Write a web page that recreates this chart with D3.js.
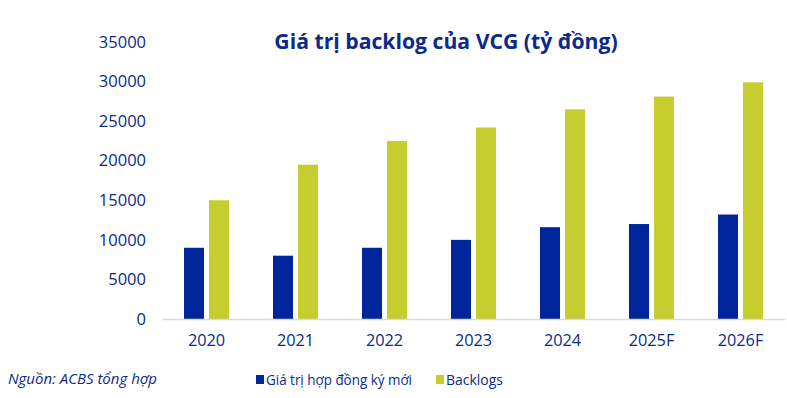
<!DOCTYPE html>
<html>
<head>
<meta charset="utf-8">
<script src="https://cdn.jsdelivr.net/npm/d3@7"></script>
<style>
  body { margin: 0; background: #fff; }
  text { font-family: "Open Sans", "Noto Sans", sans-serif; }
</style>
</head>
<body>
<div id="chart"></div>
<script>
// data
var years = ["2020", "2021", "2022", "2023", "2024", "2025F", "2026F"];
var newContracts = [9000, 8000, 9000, 10000, 11600, 12000, 13200];
var backlogs = [15000, 19500, 22500, 24200, 26500, 28100, 29900];
var yTicks = [0, 5000, 10000, 15000, 20000, 25000, 30000, 35000];
var seriesNames = ["Giá trị hợp đồng ký mới", "Backlogs"];

var navy = "#00259a", lime = "#c6cd2e", textCol = "#0c2a8c";
var W = 787, H = 398;
var margin = { top: 42, right: 2, bottom: 79, left: 162 };

var svg = d3.select("#chart").append("svg")
    .attr("width", W).attr("height", H);

var x = d3.scaleBand()
    .domain(years)
    .range([margin.left, W - margin.right]);

var y = d3.scaleLinear()
    .domain([0, 35000])
    .range([H - margin.bottom, margin.top]);

// y labels (no axis line)
svg.append("g")
    .selectAll("text")
    .data(yTicks)
    .join("text")
    .attr("x", 146)
    .attr("y", d => y(d))
    .attr("dy", "0.35em")
    .attr("text-anchor", "end")
    .attr("font-size", 16.5)
    .attr("fill", textCol)
    .text(d => d);

var barW = 20, gap = 5;

svg.append("g").selectAll("rect")
    .data(years)
    .join("rect")
    .attr("x", (d) => x(d) + x.bandwidth() / 2 - gap / 2 - barW)
    .attr("y", (d, i) => y(newContracts[i]))
    .attr("width", barW)
    .attr("height", (d, i) => y(0) - y(newContracts[i]))
    .attr("fill", navy);

svg.append("g").selectAll("rect")
    .data(years)
    .join("rect")
    .attr("x", (d) => x(d) + x.bandwidth() / 2 + gap / 2)
    .attr("y", (d, i) => y(backlogs[i]))
    .attr("width", barW)
    .attr("height", (d, i) => y(0) - y(backlogs[i]))
    .attr("fill", lime);

// baseline + category labels
var xAxis = svg.append("g")
    .attr("transform", "translate(0," + y(0) + ")")
    .call(d3.axisBottom(x).tickSize(0).tickPadding(15));
xAxis.select(".domain").attr("stroke", "#d9d9d9").attr("stroke-width", 1.5);
xAxis.selectAll("text")
    .attr("font-size", 16.3)
    .attr("fill", textCol)
    .style("font-family", "'Open Sans', 'Noto Sans', sans-serif");

// title
svg.append("text")
    .attr("x", 446).attr("y", 49)
    .attr("text-anchor", "middle")
    .attr("font-size", 21.2)
    .attr("font-weight", "bold")
    .attr("fill", textCol)
    .text("Giá trị backlog của VCG (tỷ đồng)");

// source
svg.append("text")
    .attr("x", 8).attr("y", 384)
    .attr("font-size", 15)
    .attr("font-style", "italic")
    .attr("fill", textCol)
    .text("Nguồn: ACBS tổng hợp");

// legend
var legend = svg.append("g");
var legX = [256, 436];
var legLen = [146, 57];
[navy, lime].forEach(function (c, i) {
    legend.append("rect")
        .attr("x", legX[i]).attr("y", 375)
        .attr("width", 8).attr("height", 9)
        .attr("fill", c);
    legend.append("text")
        .attr("x", legX[i] + 10).attr("y", 385)
        .attr("font-size", 15)
        .attr("textLength", legLen[i])
        .attr("lengthAdjust", "spacingAndGlyphs")
        .attr("fill", textCol)
        .text(seriesNames[i]);
});
</script>
</body>
</html>
